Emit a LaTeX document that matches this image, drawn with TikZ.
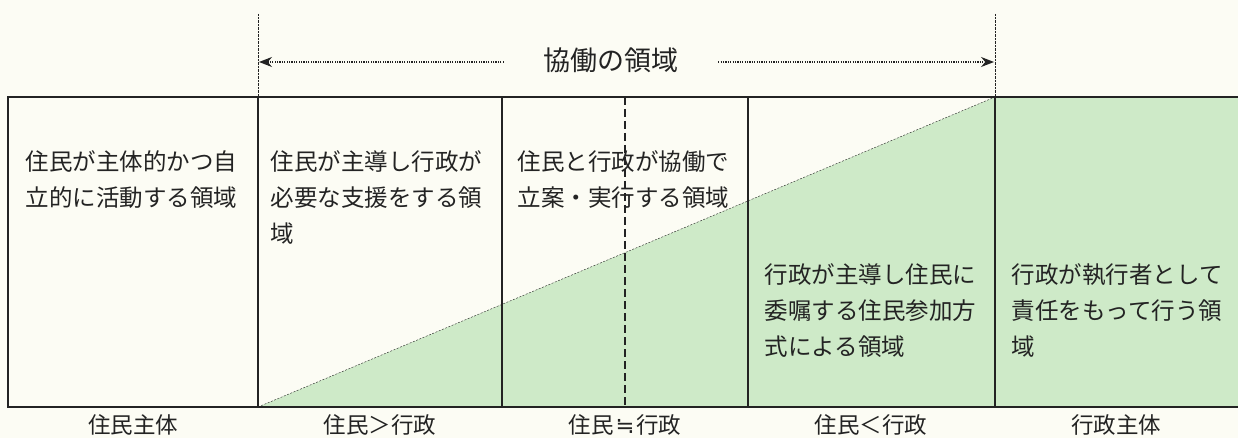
\documentclass[tikz,border=0pt]{standalone}
\usepackage{fontspec}
\newfontfamily\jpfont{Noto Sans CJK JP}
\newfontfamily\symfont{DejaVu Sans}
\usetikzlibrary{arrows.meta}
\definecolor{PaleGreen}{RGB}{206,234,200}
\definecolor{Paper}{RGB}{252,252,244}
\definecolor{Ink}{RGB}{35,35,35}

\begin{document}
\begin{tikzpicture}[x=1pt, y=-1pt, line width=1.4pt, color=Ink,
		cell/.style={anchor=north west, inner sep=0pt, align=left, font=\jpfont\fontsize{23.5}{36}\selectfont},
		caption/.style={inner sep=0pt, font=\jpfont\fontsize{22.5}{26}\selectfont},
		reach/.style={line width=1.2pt, dash pattern=on 1.2pt off 1.2pt, -{Stealth[length=13pt,width=10pt]}}]
		\fill [Paper] (0, 0) rectangle (1238, 438);
		\useasboundingbox (0, 0) rectangle (1238, 438);
		
		\fill [PaleGreen] (258, 407) -- (995, 97) -- (1238, 97) -- (1238, 407) -- cycle;
		
		\draw (1238, 97) -- (8, 97) -- (8, 407) -- (1238, 407);
		\foreach \x in {258, 502, 748, 995}
			\draw (\x, 97) -- (\x, 407);
		
		\draw [thin, dash pattern=on 2pt off 1.5pt] (258, 407) -- (995, 97);
		\draw [dash pattern=on 8pt off 4pt] (625, 97) -- (625, 407);
		
		\draw [thin, densely dotted] (258, 14) -- (258, 97);
		\draw [thin, densely dotted] (995, 14) -- (995, 97);
		
		\node [inner sep=0pt, font=\jpfont\fontsize{27}{30}\selectfont] (title) at (611, 60) {協働の領域};
		\coordinate (leftend) at (259, 62);
		\coordinate (rightend) at (994, 62);
		\draw [reach] ([shift={(-39, 2)}]title.west) -- (leftend);
		\draw [reach] ([shift={(39, 2)}]title.east) -- (rightend);
		
		\node [cell] (jishu) at (25, 150) {住民が主体的かつ自\\立的に活動する領域};
		\node [cell] (shien) at (270, 150) {住民が主導し行政が\\必要な支援をする領\\域};
		\node [cell] (kyodo) at (517, 150) {住民と行政が協働で\\立案・実行する領域};
		\node [cell] (itaku) at (764, 263) {行政が主導し住民に\\委嘱する住民参加方\\式による領域};
		\node [cell] (shikko) at (1011, 263) {行政が執行者として\\責任をもって行う領\\域};
		
		\node [caption] (l1) at (133, 425) {住民主体};
		\node [caption] (l2) at (380, 425) {住民＞行政};
		\node [caption] (l3) at (625, 425) {住民\hspace{2pt}{\symfont ≒}\hspace{2pt}行政};
		\node [caption] (l4) at (871, 425) {住民＜行政};
		\node [caption] (l5) at (1116, 425) {行政主体};
	\end{tikzpicture}
\end{document}
